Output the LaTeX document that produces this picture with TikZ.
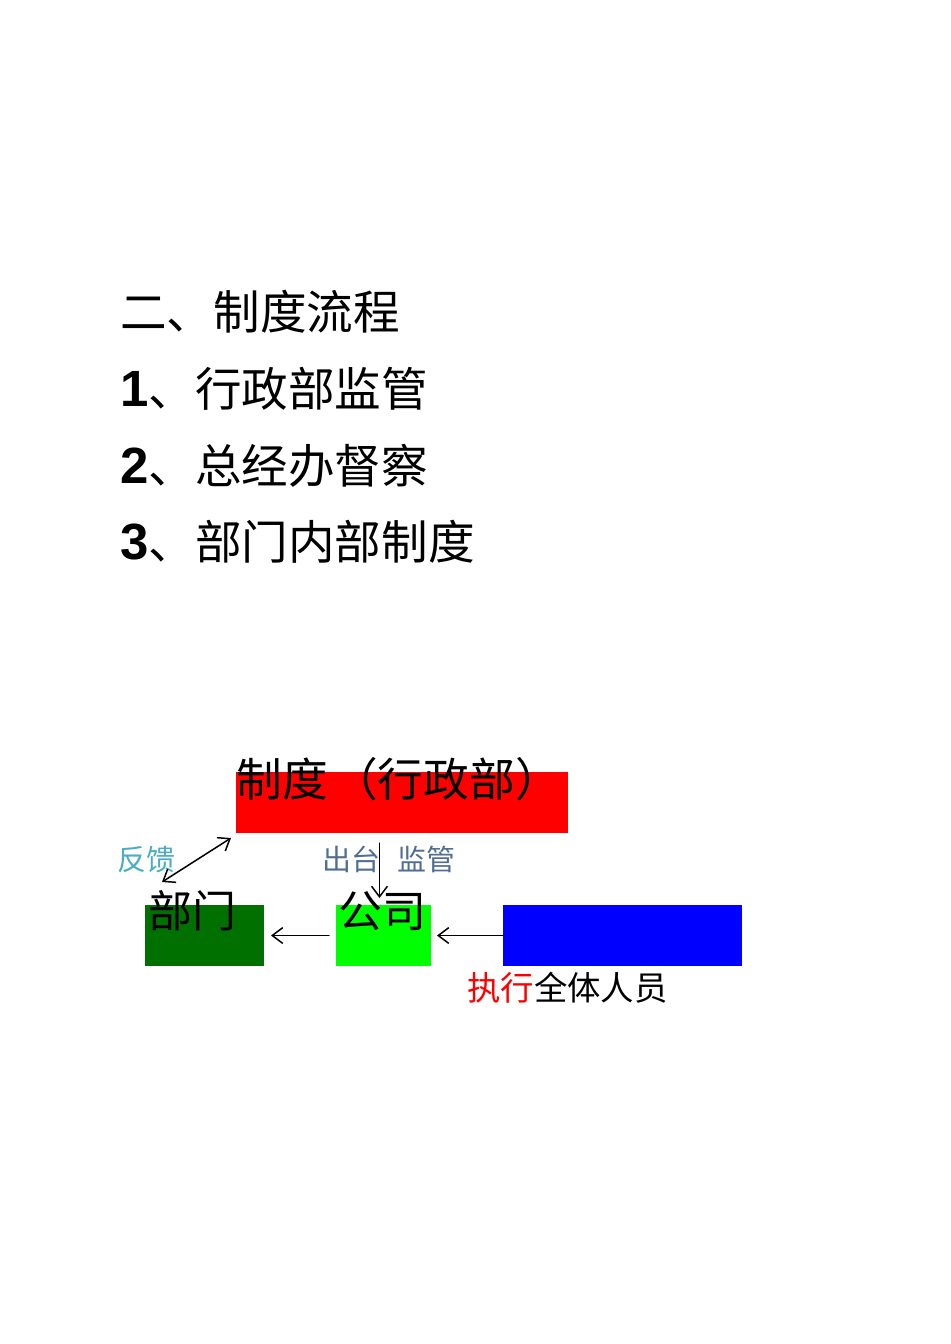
\documentclass[tikz,border=0pt]{standalone}
\usepackage{fontspec}
\usetikzlibrary{arrows.meta}
\newfontfamily\cjk{Noto Sans CJK SC}
\newfontfamily\numfont{Liberation Sans}
\definecolor{deepgreen}{RGB}{0,112,0}
\definecolor{fankui}{RGB}{75,172,198}
\definecolor{chutai}{RGB}{79,110,145}
\begin{document}
\begin{tikzpicture}[x=0.02cm, y=-0.02cm, >={Straight Barb[length=6pt,width=9pt]}, line join=round, line cap=round,
	head/.style={anchor=west, inner sep=0pt, font=\cjk\fontsize{26.5pt}{26.5pt}\selectfont},
	box/.style={anchor=north west, inner sep=0pt, outer sep=0pt, minimum height=61*0.02cm},
	lbl/.style={anchor=west, inner sep=0pt, font=\cjk},
	conn/.style={->, line width=0.85pt}]
	\useasboundingbox (0,0) rectangle (950,1344);
	% title and list
	\node[head] (t0) at (120,312) {二、制度流程};
	\node[head] (t1) at (120,389) {{\numfont\bfseries\fontsize{29pt}{29pt}\selectfont 1}、行政部监管};
	\node[head] (t2) at (120,466) {{\numfont\bfseries\fontsize{29pt}{29pt}\selectfont 2}、总经办督察};
	\node[head] (t3) at (120,542) {{\numfont\bfseries\fontsize{29pt}{29pt}\selectfont 3}、部门内部制度};
	% boxes
	\node[box, fill=red, minimum width=332*0.02cm] (zhidu) at (236,772) {};
	\node[box, fill=deepgreen, minimum width=119*0.02cm] (bumen) at (145,905) {};
	\node[box, fill=green, minimum width=95*0.02cm] (gongsi) at (336,905) {};
	\node[box, fill=blue, minimum width=239*0.02cm] (renyuan) at (503,905) {};
	% texts
	\node[lbl, font=\cjk\fontsize{26pt}{26pt}\selectfont] (zhidutxt) at (236,779) {制度\hspace{0.1em}（行政部）};
	\node[lbl, font=\cjk\fontsize{25pt}{25pt}\selectfont] (bumentxt) at (148,911) {部门};
	\node[lbl, font=\cjk\fontsize{25pt}{25pt}\selectfont] (gongsitxt) at (338,911) {公司};
	\node[lbl, font=\cjk\fontsize{16.5pt}{16.5pt}\selectfont, text=fankui] (fankui) at (117,860) {反馈};
	\node[lbl, font=\cjk\fontsize{16.5pt}{16.5pt}\selectfont, text=chutai] (chutai) at (322,859) {出台\hspace{0.6em}监管};
	\node[lbl, font=\cjk\fontsize{19pt}{19pt}\selectfont] (zhixing) at (467,988) {\textcolor{red}{执行}全体人员};
	% connectors
	\draw[conn, <->] ([shift={(-5,5)}]zhidu.south west) -- ([shift={(17,-23)}]bumen.north west);
	\draw[conn] ([xshift=-4*0.02cm,yshift=-10*0.02cm]zhidu.south -| gongsi.north) -- ([xshift=-4*0.02cm,yshift=7*0.02cm]gongsi.north);
	\draw[conn] ([xshift=-7*0.02cm]gongsi.west) -- ([xshift=7*0.02cm]bumen.east);
	\draw[conn] (renyuan.west) -- ([xshift=6*0.02cm]gongsi.east);
\end{tikzpicture}
\end{document}
